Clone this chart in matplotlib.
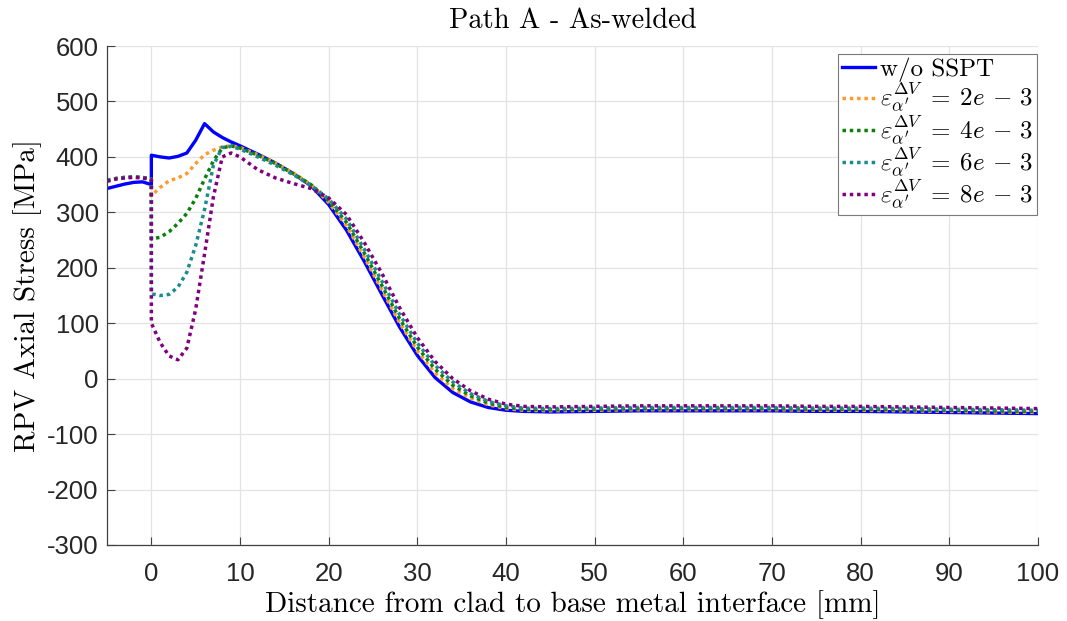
import matplotlib
matplotlib.use("Agg")
import matplotlib.pyplot as plt

plt.rcParams["mathtext.fontset"] = "cm"
plt.rcParams["axes.unicode_minus"] = False

# distance from clad to base metal interface [mm] (0 appears twice: jump at the interface)
dist = [-5, -4, -3, -2, -1, 0, 0, 1, 2, 3, 4, 5, 6, 7, 8, 9, 10, 12, 14, 16, 18,
        20, 22, 24, 26, 28, 30, 32, 34, 36, 38, 40, 42, 45, 50, 55, 60, 65, 70,
        75, 80, 85, 90, 95, 100]

# RPV axial stress [MPa]
no_sspt = [343, 347, 351, 354, 355, 350, 403, 400, 398, 401, 407, 430, 460, 445,
           435, 427, 420, 405, 389, 370, 348, 314, 268, 212, 152, 93, 42, 2, -25,
           -42, -52, -57, -59, -60, -59, -58, -58, -58, -58, -59, -59, -60, -61,
           -62, -63]
eps_2e3 = [358, 361, 363, 364, 363, 360, 330, 345, 357, 362, 370, 388, 404, 412,
           418, 420, 417, 404, 389, 371, 350, 318, 276, 220, 160, 101, 50, 10,
           -18, -35, -47, -54, -57, -58, -57, -56, -56, -56, -56, -57, -57, -58,
           -59, -60, -61]
eps_4e3 = [358, 361, 363, 364, 363, 360, 252, 255, 265, 280, 298, 325, 360, 393,
           416, 420, 416, 403, 388, 370, 350, 321, 282, 227, 168, 108, 57, 17,
           -12, -31, -44, -52, -55, -56, -55, -54, -54, -54, -54, -55, -55, -56,
           -57, -58, -59]
eps_6e3 = [358, 361, 363, 364, 363, 360, 153, 150, 152, 165, 192, 240, 305, 385,
           417, 419, 414, 400, 385, 368, 349, 324, 288, 234, 176, 116, 64, 24,
           -6, -27, -41, -49, -53, -54, -53, -52, -52, -52, -52, -53, -53, -54,
           -55, -56, -57]
eps_8e3 = [356, 360, 362, 363, 362, 359, 100, 65, 41, 34, 55, 125, 225, 328,
           400, 407, 400, 377, 362, 352, 343, 326, 296, 246, 190, 128, 74, 31,
           0, -22, -37, -46, -50, -51, -50, -49, -49, -49, -49, -50, -50, -51,
           -52, -53, -54]

labels = ["w/o SSPT",
          r"$\varepsilon^{\Delta V}_{\alpha'} \;=\; 2e \,-\, 3$",
          r"$\varepsilon^{\Delta V}_{\alpha'} \;=\; 4e \,-\, 3$",
          r"$\varepsilon^{\Delta V}_{\alpha'} \;=\; 6e \,-\, 3$",
          r"$\varepsilon^{\Delta V}_{\alpha'} \;=\; 8e \,-\, 3$"]
colors = ["#0000ff", "#ff9a2e", "#0a800a", "#1a8c8c", "#800080"]

fig = plt.figure(figsize=(10.67, 6.21), dpi=100)
ax = fig.add_axes([0.1003, 0.1224, 0.8725, 0.8035])

ax.plot(dist, no_sspt, color=colors[0], lw=2.4, label=labels[0])
for ys, c, lab in zip([eps_2e3, eps_4e3, eps_6e3, eps_8e3], colors[1:], labels[1:]):
    ax.plot(dist, ys, color=c, lw=2.5, linestyle=(0, (1, 1.1)), label=lab)

ax.set_xlim(-5, 100)
ax.set_ylim(-300, 600)
ax.set_xticks(range(0, 101, 10))
ax.set_yticks(range(-300, 601, 100))
ax.grid(True, color="#e3e3e3", lw=0.9)
ax.set_axisbelow(True)

for s in ["top", "right"]:
    ax.spines[s].set_visible(False)
for s in ["left", "bottom"]:
    ax.spines[s].set_color("#404040")
    ax.spines[s].set_linewidth(0.9)
ax.tick_params(direction="in", length=6, width=0.8, color="#404040")
ax.tick_params(axis="y", labelsize=18.5, pad=6)
ax.tick_params(axis="x", labelsize=18.5, pad=12)
for t in ax.get_xticklabels() + ax.get_yticklabels():
    t.set_fontfamily("Liberation Sans")
    t.set_color("#262626")

ax.set_title("Path A - As-welded", fontfamily="cmr10", fontsize=20.5, pad=13)
ax.set_xlabel("Distance from clad to base metal interface [mm]", fontfamily="cmr10",
              fontsize=21, labelpad=3)
ax.set_ylabel("RPV Axial Stress [MPa]", fontfamily="cmr10", fontsize=21, labelpad=4)

leg = ax.legend(loc="upper right", bbox_to_anchor=(0.999, 0.984),
                prop={"family": "cmr10", "size": 18}, handlelength=1.35,
                handletextpad=0.2, labelspacing=-0.05, borderpad=0.15,
                borderaxespad=0.0, fancybox=False, framealpha=1)
leg.get_frame().set_edgecolor("#7a7a7a")
leg.get_frame().set_linewidth(0.8)

fig.savefig("out.png", dpi=100)
